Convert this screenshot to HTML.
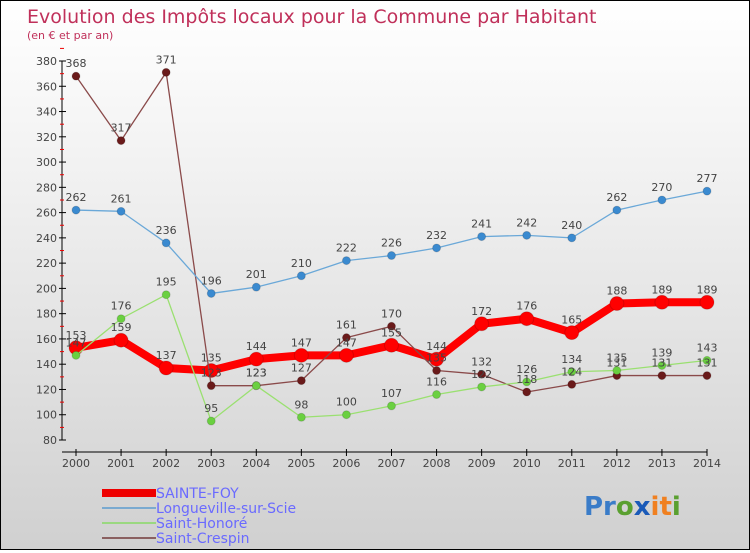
<!DOCTYPE html>
<html><head><meta charset="utf-8"><style>
body{margin:0;width:750px;height:550px;overflow:hidden;font-family:"DejaVu Sans","Liberation Sans",sans-serif}
#c{position:absolute;left:0;top:0;width:748px;height:548px;border:1px solid #000;background:linear-gradient(#fff,#f2f2f2 30%,#d0d0d0)}
</style></head><body>
<div id="c">
<svg width="748" height="548" xmlns="http://www.w3.org/2000/svg" id="svg" font-family="DejaVu Sans, Liberation Sans, sans-serif">
<text x="26" y="22" font-size="19" fill="#c0305a">Evolution des Impôts locaux pour la Commune par Habitant</text>
<text x="26" y="38" font-size="11" fill="#c0305a">(en € et par an)</text>
<g id="axes"></g><g id="series"></g><g id="labels"></g>
<g>
<rect x="101" y="488" width="54" height="8" fill="#e00"/>
<text x="155" y="497" font-size="14" fill="#6a6aff">SAINTE-FOY</text>
<line x1="101" y1="507" x2="155" y2="507" stroke="#7aaad0" stroke-width="2"/>
<text x="155" y="512" font-size="14" fill="#6a6aff">Longueville-sur-Scie</text>
<line x1="101" y1="522" x2="155" y2="522" stroke="#9ad880" stroke-width="2"/>
<text x="155" y="527" font-size="14" fill="#6a6aff">Saint-Honoré</text>
<line x1="101" y1="537" x2="155" y2="537" stroke="#8a6060" stroke-width="2"/>
<text x="155" y="542" font-size="14" fill="#6a6aff">Saint-Crespin</text>
</g>
<text x="583" y="514" font-size="26" font-weight="bold"><tspan fill="#3a7cc8">Pr</tspan><tspan fill="#5aa030">o</tspan><tspan fill="#1a5ab8">x</tspan><tspan fill="#f08020">it</tspan><tspan fill="#5aa030">i</tspan></text>
</svg></div>
<script>
const years=[2000,2001,2002,2003,2004,2005,2006,2007,2008,2009,2010,2011,2012,2013,2014];
const yTicks=[80,100,120,140,160,180,200,220,240,260,280,300,320,340,360,380];
const sainteFoy=[153,159,137,135,144,147,147,155,144,172,176,165,188,189,189];
const longueville=[262,261,236,196,201,210,222,226,232,241,242,240,262,270,277];
const saintHonore=[147,176,195,95,123,98,100,107,116,122,126,134,135,139,143];
const saintCrespin=[368,317,371,123,123,127,161,170,135,132,118,124,131,131,131];
const NS="http://www.w3.org/2000/svg";
const X0=75,X1=706,Y0=439,Y1=60;
function xs(i){return X0+(X1-X0)*i/(years.length-1);}
function ys(v){return Y0-(v-80)*(Y0-Y1)/300;}
function mk(t,a,p){const e=document.createElementNS(NS,t);for(const k in a)e.setAttribute(k,a[k]);p.appendChild(e);return e;}
const ax=document.getElementById('axes');
const yl=mk('line',{x1:61,y1:ys(380),x2:61,y2:Y0,stroke:'#000','stroke-width':1},ax);


const xl=mk('line',{x1:61,y1:451,x2:X1,y2:451,stroke:'#000','stroke-width':1},ax);


yTicks.forEach(v=>{const y=ys(v);
mk('line',{x1:58,y1:y,x2:65,y2:y,stroke:'#000'},ax);
mk('line',{x1:59,y1:y-12.6,x2:63,y2:y-12.6,stroke:'#e00'},ax);
const t=mk('text',{x:56,y:y+4,'font-size':11,fill:'#444','text-anchor':'end'},ax);t.textContent=v;

});
years.forEach((yr,i)=>{const x=xs(i);
mk('line',{x1:x,y1:448,x2:x,y2:455,stroke:'#000'},ax);
const t=mk('text',{x:x,y:466,'font-size':11,fill:'#444','text-anchor':'middle'},ax);t.textContent=yr;

});
const sg=document.getElementById('series'),lg=document.getElementById('labels');
function series(data,name,lc,mc,w,r){
const g=mk('g',{},sg);


mk('polyline',{points:data.map((v,i)=>xs(i)+','+ys(v)).join(' '),fill:'none',stroke:lc,'stroke-width':w,'stroke-linejoin':'round'},g);
data.forEach((v,i)=>{const c=mk('circle',{cx:xs(i),cy:ys(v),r:r,fill:mc,stroke:'rgba(0,0,0,0.15)'},g);


const t=mk('text',{x:xs(i),y:ys(v)-9,'font-size':11,fill:'#444','text-anchor':'middle'},lg);t.textContent=v;

});}
series(sainteFoy,'sainte-foy','#f00','#f00',8,7);
series(saintCrespin,'saint-crespin','#8a4a4a','#6a1a1a',1.3,4);
series(saintHonore,'saint-honore','#9ae070','#6ad040',1.3,4);
series(longueville,'longueville','#6aa8d8','#3a8ad0',1.3,4);
</script>
</body></html>
